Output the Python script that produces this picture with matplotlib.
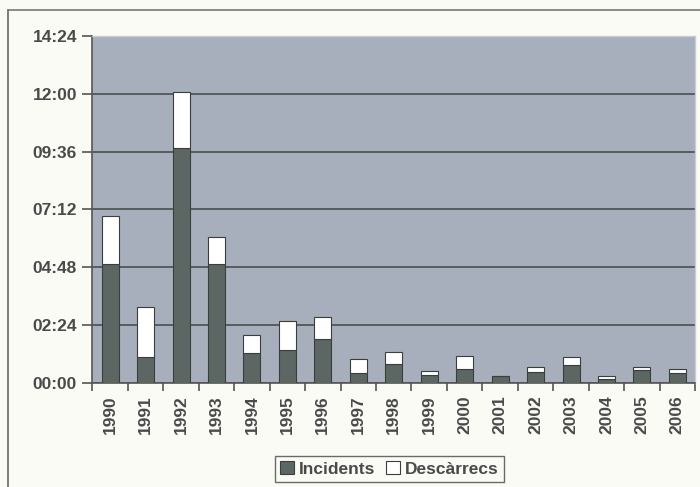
import matplotlib
matplotlib.use('Agg')
import matplotlib.pyplot as plt
from matplotlib.ticker import FuncFormatter, FixedLocator
from matplotlib.lines import Line2D
import numpy as np

years = ['1990', '1991', '1992', '1993', '1994', '1995', '1996', '1997', '1998',
         '1999', '2000', '2001', '2002', '2003', '2004', '2005', '2006']
# hours (decimal)
incidents = [4.94, 1.08, 9.76, 4.94, 1.25, 1.38, 1.83, 0.42, 0.78,
             0.32, 0.58, 0.29, 0.45, 0.73, 0.18, 0.55, 0.42]
totals = [6.92, 3.14, 12.07, 6.06, 2.00, 2.56, 2.73, 0.98, 1.29,
          0.50, 1.13, 0.29, 0.65, 1.08, 0.29, 0.66, 0.58]
descarrecs = [t - i for t, i in zip(totals, incidents)]

y_ticks = [0, 2.4, 4.8, 7.2, 9.6, 12.0, 14.4]

plt.rcParams['font.family'] = ['Liberation Sans', 'DejaVu Sans']
plt.rcParams['font.weight'] = 'bold'

txt_color = '#4a4a4a'

fig = plt.figure(figsize=(7, 4.87), dpi=100)
fig.patch.set_facecolor('#fbfbf6')
ax = fig.add_axes([0.132, 0.2136, 0.861, 0.7125])
ax.set_facecolor('#a6afbb')

x = np.arange(len(years))
ax.bar(x, incidents, width=0.48, color='#5c6763', edgecolor='#3a3f3e', linewidth=0.8,
       label='Incidents', zorder=3)
ax.bar(x, descarrecs, width=0.48, bottom=incidents, color='white', edgecolor='#3a3f3e',
       linewidth=0.8, label='Descàrrecs', zorder=3)

ax.set_xlim(-0.5, len(years) - 0.5)
ax.set_ylim(0, 14.4)
ax.yaxis.set_major_locator(FixedLocator(y_ticks))
ax.yaxis.set_major_formatter(FuncFormatter(
    lambda v, p: '%02d:%02d' % (int(round(v * 60)) // 60, int(round(v * 60)) % 60)))
ax.grid(axis='y', color='#4a4e50', linewidth=1.2, zorder=1)

ax.set_xticks(x)
ax.set_xticklabels(years, rotation=90, fontsize=12.5, color=txt_color)
ax.tick_params(axis='x', length=0, pad=9)
ax.set_xticks(np.arange(-0.5, len(years)), minor=True)
ax.tick_params(axis='x', which='minor', length=6, width=1.2, color='#555555', direction='out')
ax.tick_params(axis='y', length=7, width=1.2, color='#555555', labelsize=12.5,
               labelcolor=txt_color, pad=4)

for side in ['top', 'right']:
    ax.spines[side].set_color('#c9ccd0')
    ax.spines[side].set_linewidth(1)
for side in ['left', 'bottom']:
    ax.spines[side].set_color('#555555')
    ax.spines[side].set_linewidth(1.2)

leg = fig.legend(loc='center', bbox_to_anchor=(0.556, 0.037), ncol=2, fontsize=12.5,
                 frameon=True, fancybox=False, handlelength=0.8, handleheight=0.8,
                 handletextpad=0.3, columnspacing=0.6, borderpad=0.3)
leg.get_frame().set_edgecolor('#444444')
leg.get_frame().set_linewidth(1.0)
leg.get_frame().set_facecolor('#fbfbf6')
for t in leg.get_texts():
    t.set_color(txt_color)

fig.add_artist(Line2D([8 / 700, 8 / 700], [0, 1 - 10 / 487], color='#666666', linewidth=1.2))
fig.add_artist(Line2D([8 / 700, 1], [1 - 10 / 487, 1 - 10 / 487], color='#777777', linewidth=1.2))

fig.savefig('out.png', dpi=100, facecolor=fig.get_facecolor())
